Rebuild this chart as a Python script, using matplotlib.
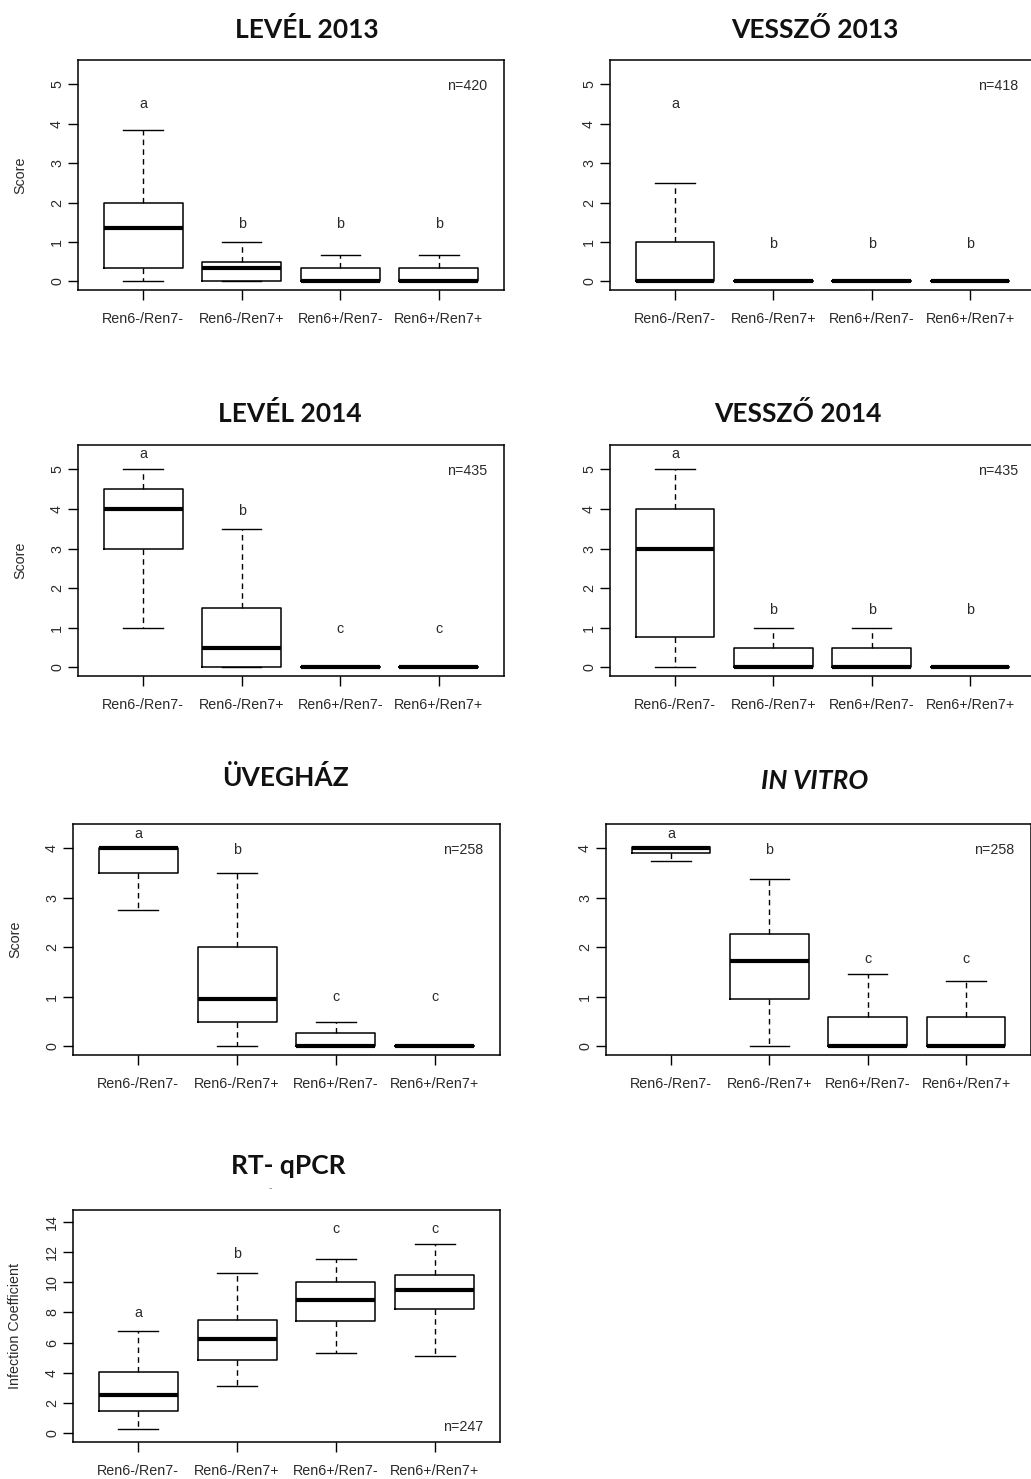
import numpy as np
import matplotlib.pyplot as plt

W, H = 1031, 1479

groups = ['Ren6-/Ren7-', 'Ren6-/Ren7+', 'Ren6+/Ren7-', 'Ren6+/Ren7+']

# LEVÉL 2013
lev13_q1 = [0.33, 0.0, 0.0, 0.0]
lev13_med = [1.35, 0.33, 0.0, 0.0]
lev13_q3 = [2.0, 0.5, 0.33, 0.33]
lev13_lo = [0.0, 0.0, 0.0, 0.0]
lev13_hi = [3.83, 1.0, 0.67, 0.67]
lev13_letters = ['a', 'b', 'b', 'b']
lev13_letter_y = [4.5, 1.45, 1.45, 1.45]

# VESSZŐ 2013
ves13_q1 = [0.0, 0.0, 0.0, 0.0]
ves13_med = [0.0, 0.0, 0.0, 0.0]
ves13_q3 = [1.0, 0.0, 0.0, 0.0]
ves13_lo = [0.0, 0.0, 0.0, 0.0]
ves13_hi = [2.5, 0.0, 0.0, 0.0]
ves13_letters = ['a', 'b', 'b', 'b']
ves13_letter_y = [4.5, 0.95, 0.95, 0.95]

# LEVÉL 2014
lev14_q1 = [3.0, 0.0, 0.0, 0.0]
lev14_med = [4.0, 0.5, 0.0, 0.0]
lev14_q3 = [4.5, 1.5, 0.0, 0.0]
lev14_lo = [1.0, 0.0, 0.0, 0.0]
lev14_hi = [5.0, 3.5, 0.0, 0.0]
lev14_letters = ['a', 'b', 'c', 'c']
lev14_letter_y = [5.38, 3.96, 0.97, 0.97]

# VESSZŐ 2014
ves14_q1 = [0.77, 0.0, 0.0, 0.0]
ves14_med = [3.0, 0.0, 0.0, 0.0]
ves14_q3 = [4.0, 0.5, 0.5, 0.0]
ves14_lo = [0.0, 0.0, 0.0, 0.0]
ves14_hi = [5.0, 1.0, 1.0, 0.0]
ves14_letters = ['a', 'b', 'b', 'b']
ves14_letter_y = [5.38, 1.45, 1.45, 1.45]

# ÜVEGHÁZ
uveg_q1 = [3.5, 0.5, 0.0, 0.0]
uveg_med = [4.0, 0.95, 0.0, 0.0]
uveg_q3 = [4.0, 2.0, 0.27, 0.0]
uveg_lo = [2.75, 0.0, 0.0, 0.0]
uveg_hi = [4.0, 3.5, 0.5, 0.0]
uveg_letters = ['a', 'b', 'c', 'c']
uveg_letter_y = [4.29, 3.97, 0.99, 0.99]

# IN VITRO
vitro_q1 = [3.9, 0.95, 0.0, 0.0]
vitro_med = [4.0, 1.72, 0.0, 0.0]
vitro_q3 = [4.03, 2.27, 0.6, 0.6]
vitro_lo = [3.75, 0.0, 0.0, 0.0]
vitro_hi = [4.03, 3.38, 1.47, 1.33]
vitro_letters = ['a', 'b', 'c', 'c']
vitro_letter_y = [4.29, 3.97, 1.77, 1.77]

# RT-qPCR
qpcr_q1 = [1.5, 4.85, 7.4, 8.2]
qpcr_med = [2.55, 6.25, 8.8, 9.5]
qpcr_q3 = [4.05, 7.5, 10.0, 10.45]
qpcr_lo = [0.28, 3.15, 5.3, 5.1]
qpcr_hi = [6.8, 10.6, 11.5, 12.55]
qpcr_letters = ['a', 'b', 'c', 'c']
qpcr_letter_y = [7.94, 11.85, 13.5, 13.5]

score_ticks = [0, 1, 2, 3, 4, 5]
score4_ticks = [0, 1, 2, 3, 4]
qpcr_ticks = [0, 2, 4, 6, 8, 10, 12, 14]

# (title, italic, stats, letters, letter y, n label, n y, yticks, ylim top, ylabel,
#  axes box in px [left, right, top, bottom], title centre in px)
panels = [
    ('LEVÉL 2013', False, (lev13_q1, lev13_med, lev13_q3, lev13_lo, lev13_hi),
     lev13_letters, lev13_letter_y, 'n=420', 4.95, score_ticks, 5.4, 'Score',
     (78, 504, 60, 290), (307, 29)),
    ('VESSZŐ 2013', False, (ves13_q1, ves13_med, ves13_q3, ves13_lo, ves13_hi),
     ves13_letters, ves13_letter_y, 'n=418', 4.95, score_ticks, 5.4, None,
     (610, 1035, 60, 290), (815, 29)),
    ('LEVÉL 2014', False, (lev14_q1, lev14_med, lev14_q3, lev14_lo, lev14_hi),
     lev14_letters, lev14_letter_y, 'n=435', 4.96, score_ticks, 5.4, 'Score',
     (78, 504, 445, 676), (290, 414)),
    ('VESSZŐ 2014', False, (ves14_q1, ves14_med, ves14_q3, ves14_lo, ves14_hi),
     ves14_letters, ves14_letter_y, 'n=435', 4.96, score_ticks, 5.4, None,
     (610, 1035, 445, 676), (798, 414)),
    ('ÜVEGHÁZ', False, (uveg_q1, uveg_med, uveg_q3, uveg_lo, uveg_hi),
     uveg_letters, uveg_letter_y, 'n=258', 3.97, score4_ticks, 4.32, 'Score',
     (73, 500, 824, 1055), (285, 778)),
    ('IN VITRO', True, (vitro_q1, vitro_med, vitro_q3, vitro_lo, vitro_hi),
     vitro_letters, vitro_letter_y, 'n=258', 3.97, score4_ticks, 4.32, None,
     (606, 1031, 824, 1055), (815, 781)),
    ('RT- qPCR', False, (qpcr_q1, qpcr_med, qpcr_q3, qpcr_lo, qpcr_hi),
     qpcr_letters, qpcr_letter_y, 'n=247', 0.4, qpcr_ticks, 14.2, 'Infection Coefficient',
     (73, 500, 1210, 1442), (288, 1166)),
]

text_font = 'Liberation Sans'
text_col = '#2a2a2a'

fig = plt.figure(figsize=(W / 100, H / 100), dpi=100)
fig.patch.set_facecolor('white')

for (title, italic, st, letters, letter_y, ntxt, ny, yticks, ytop, ylabel,
     box, tpos) in panels:
    l, r, t, b = box
    ax = fig.add_axes([l / W, 1 - b / H, (r - l) / W, (b - t) / H])
    q1, med, q3, lo, hi = st
    stats = [dict(q1=q1[i], med=med[i], q3=q3[i], whislo=lo[i], whishi=hi[i], fliers=[])
             for i in range(len(groups))]
    ax.bxp(stats, positions=np.arange(1, len(groups) + 1), widths=0.8, capwidths=0.4,
           showfliers=False, patch_artist=False,
           boxprops=dict(color='black', linewidth=1.1),
           medianprops=dict(color='black', linewidth=3.0, solid_capstyle='butt'),
           whiskerprops=dict(color='black', linewidth=1.0, linestyle=(0, (4, 3))),
           capprops=dict(color='black', linewidth=1.0))
    ext = 0.04 * ytop
    ax.set_ylim(-ext, ytop + ext)
    ax.set_xlim(0.34, 4.66)
    ax.set_yticks(yticks)
    ax.set_yticklabels([str(v) for v in yticks], rotation=90, va='center',
                       fontsize=10.3, family=text_font, color=text_col)
    ax.set_xticks(np.arange(1, len(groups) + 1))
    ax.set_xticklabels(groups, fontsize=10.3, family=text_font, color=text_col)
    ax.tick_params(axis='y', direction='out', length=7, width=1, pad=3)
    ax.tick_params(axis='x', direction='out', length=7, width=1, pad=9)
    for s in ax.spines.values():
        s.set_linewidth(1.1)
    for i, (lt, ly) in enumerate(zip(letters, letter_y)):
        ax.text(i + 1, ly, lt, ha='center', va='center', fontsize=10.3,
                family=text_font, color=text_col)
    ax.text(4.49, ny, ntxt, ha='right', va='center', fontsize=10.3,
            family=text_font, color=text_col)
    if ylabel:
        fig.text((l - 58) / W, 1 - ((t + b) / 2) / H, ylabel, rotation=90,
                 ha='center', va='center', fontsize=10.3, family=text_font, color=text_col)
    fig.text(tpos[0] / W, 1 - tpos[1] / H, title, ha='center', va='center',
             fontsize=19, fontweight='bold', family='Lato',
             style='italic' if italic else 'normal', color='#111111')

# small stray mark below the RT-qPCR title
fig.text(270 / W, 1 - 1188 / H, '-', ha='center', va='center', fontsize=7, color='#888888')

fig.savefig('out.png', dpi=100)
